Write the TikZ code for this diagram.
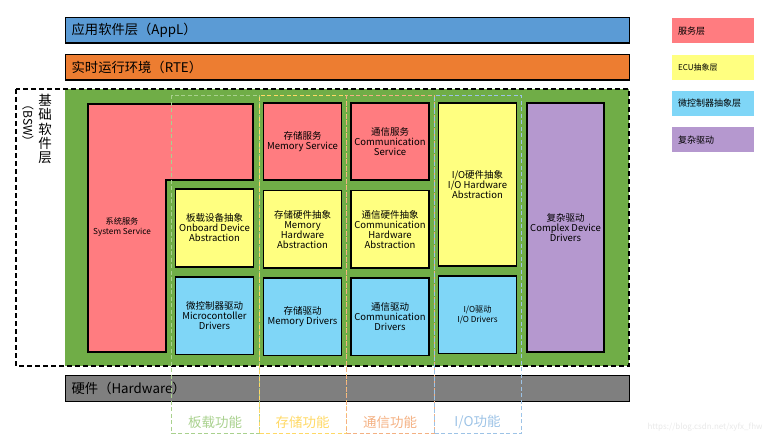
\documentclass[tikz,border=0pt]{standalone}
\usepackage{fontspec}
\setmainfont{Noto Sans CJK SC}
\usetikzlibrary{positioning}

\definecolor{applblue}{HTML}{5B9BD5}
\definecolor{rteorange}{HTML}{ED7D31}
\definecolor{bswgreen}{HTML}{70AD47}
\definecolor{hwgray}{HTML}{7F7F7F}
\definecolor{srvpink}{HTML}{FF7C80}
\definecolor{ecuyellow}{HTML}{FFFF80}
\definecolor{mcublue}{HTML}{7FD6F7}
\definecolor{cddpurple}{HTML}{B598CF}
\definecolor{fgreen}{HTML}{A9D18E}
\definecolor{fyellow}{HTML}{FFD966}
\definecolor{forange}{HTML}{F4B183}
\definecolor{fblue}{HTML}{9DC3E6}

\newcommand\modfont{\fontsize{9.5}{10}\selectfont}
\newcommand\modsmall{\fontsize{8.2}{9.5}\selectfont}

\begin{document}
\begin{tikzpicture}[
    x=1pt, y=-1pt, node distance=8.5pt,
    bar/.style={draw, line width=1.3pt, anchor=north west, minimum width=564, minimum height=25.5,
      text width=552, inner xsep=6pt, inner ysep=0pt, align=left, font=\fontsize{13.3}{15}\selectfont},
    mod/.style={draw, line width=1.6pt, align=center, inner sep=1pt, minimum width=78, minimum height=77.5, font=\modfont},
    leg/.style={anchor=north west, minimum width=82, minimum height=25, text width=70, inner xsep=6pt,
      inner ysep=0pt, align=left, font=\fontsize{9}{10}\selectfont},
    fnbox/.style={line width=1.2pt, dash pattern=on 4pt off 2.5pt, anchor=north west, minimum width=88, minimum height=338, inner sep=0pt},
    fnlabel/.style={font=\fontsize{13.5}{15}\selectfont}
  ]
    \useasboundingbox (0,0) rectangle (783,443);

    % layers
    \node[bar, fill=applblue] (appl) at (65,17) {应用软件层（AppL）};
    \node[bar, fill=rteorange] (rte) at (65,54) {实时运行环境（RTE）};
    \node[bar, fill=hwgray] (hw) at (65,375) {硬件（Hardware）};

    % basic software
    \node[fill=bswgreen, anchor=north west, minimum width=564, minimum height=277, inner sep=0pt] (bsw) at (65,89) {};
    \draw[line width=1.6pt, dash pattern=on 5pt off 3pt] (16,89) rectangle (629,366);
    \node[align=center, font=\fontsize{13.5}{14.4}\selectfont] (bswzh) at (45,129) {基\\础\\软\\件\\层};
    \node[rotate=-90, font=\fontsize{12}{14}\selectfont] (bswen) at (28,123) {（BSW）};

    % service layer
    \filldraw[fill=srvpink, line width=1.6pt] (88,104) -- (253,104) -- (253,180) -- (166,180) -- (166,352) -- (88,352) -- cycle;
    \node[align=center, font=\modsmall] (syssrv) at (122,227) {系统服务\\System Service};
    \node[mod, fill=srvpink] (memsrv) at (302.5,141.5) {存储服务\\Memory Service};
    \node[mod, fill=srvpink] (comsrv) at (390,141.5) {通信服务\\Communication\\Service};

    % ECU abstraction
    \node[mod, fill=ecuyellow] (obdabs) at (214.5,228) {板载设备抽象\\Onboard Device\\Abstraction};
    \node[mod, fill=ecuyellow, below=of memsrv] (memabs) {存储硬件抽象\\Memory\\Hardware\\Abstraction};
    \node[mod, fill=ecuyellow, below=of comsrv] (comabs) {通信硬件抽象\\Communication\\Hardware\\Abstraction};
    \node[mod, fill=ecuyellow, minimum height=163] (ioabs) at (477.5,184.5) {I/O硬件抽象\\I/O Hardware\\Abstraction};

    % microcontroller abstraction
    \node[mod, fill=mcublue, below=of obdabs] (mcudrv) {微控制器驱动\\Microcontoller\\Drivers};
    \node[mod, fill=mcublue, below=of memabs] (memdrv) {存储驱动\\Memory Drivers};
    \node[mod, fill=mcublue, below=of comabs] (comdrv) {通信驱动\\Communication\\Drivers};
    \node[mod, fill=mcublue, below=of ioabs, font=\modsmall] (iodrv) {I/O驱动\\I/O Drivers};

    % complex drivers
    \node[mod, fill=cddpurple, minimum width=77, minimum height=249] (cdd) at (565.5,227.5) {复杂驱动\\Complex Device\\Drivers};

    % functional groups
    \node[fnbox, draw=fgreen] (fobd) at (171,95) {};
    \node[fnbox, draw=fyellow, minimum width=87] (fmem) at (259,95) {};
    \node[fnbox, draw=forange] (fcom) at (346,95) {};
    \node[fnbox, draw=fblue, minimum width=87] (fio) at (434,95) {};
    \node[fnlabel, text=fgreen] (lobd) at (215,422) {板载功能};
    \node[fnlabel, text=fyellow] (lmem) at (302.5,422) {存储功能};
    \node[fnlabel, text=forange] (lcom) at (390,422) {通信功能};
    \node[fnlabel, text=fblue] (lio) at (477.5,422) {I/O功能};

    % legend
    \node[leg, fill=srvpink] (legsrv) at (672,18) {服务层};
    \node[leg, fill=ecuyellow, below=11pt of legsrv, font=\fontsize{8}{9}\selectfont] (legecu) {ECU抽象层};
    \node[leg, fill=mcublue, below=11pt of legecu] (legmcu) {微控制器抽象层};
    \node[leg, fill=cddpurple, below=11pt of legmcu] (legcdd) {复杂驱动};

    \node[text=gray!18, font=\fontsize{8}{9}\selectfont] (mark) at (705,427) {https://blog.csdn.net/xyfx\_fhw};
  \end{tikzpicture}
\end{document}
